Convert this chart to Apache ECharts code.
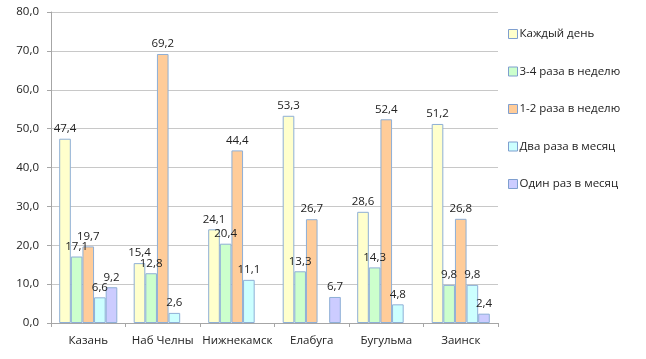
<!DOCTYPE html>
<html><head><meta charset="utf-8">
<script src="https://cdn.jsdelivr.net/npm/echarts@6/dist/echarts.min.js"></script>
<style>html,body{margin:0;padding:0;background:#fff}#c{width:646px;height:359px}</style>
</head><body><div id="c"></div>
<script>
const categories = ['Казань', 'Наб Челны', 'Нижнекамск', 'Елабуга', 'Бугульма', 'Заинск'];
const seriesNames = ['Каждый день', '3-4 раза в неделю', '1-2 раза в неделю', 'Два раза в месяц', 'Один раз в месяц'];
const everyDay = [47.4, 15.4, 24.1, 53.3, 28.6, 51.2];
const threeFour = [17.1, 12.8, 20.4, 13.3, 14.3, 9.8];
const oneTwo = [19.7, 69.2, 44.4, 26.7, 52.4, 26.8];
const twiceMonth = [6.6, 2.6, 11.1, null, 4.8, 9.8];
const onceMonth = [9.2, null, null, 6.7, null, 2.4];
const colors = ['#FFFFCC', '#CCFFCC', '#FFCC99', '#CCFFFF', '#CCCCFF'];
const allData = [everyDay, threeFour, oneTwo, twiceMonth, onceMonth];
const fmt = v => v.toFixed(1).replace('.', ',');
const FONT = 'Open Sans';
const chart = echarts.init(document.getElementById('c'));
chart.setOption({
  backgroundColor: '#fff',
  animation: false,
  grid: {left: 51, right: 148, top: 12, bottom: 36},
  legend: {
    orient: 'vertical', left: 503, top: 23, itemGap: 25.5,
    itemWidth: 9, itemHeight: 9, icon: 'rect',
    textStyle: {fontFamily: FONT, fontSize: 11.5, color: '#222', padding: [0,0,0,-3]},
    itemStyle: {borderColor: '#7F9FCF', borderWidth: 1},
    data: seriesNames
  },
  xAxis: {
    type: 'category', data: categories,
    axisLine: {lineStyle: {color: '#A6A6A6'}},
    axisTick: {show: true, length: 4, lineStyle: {color: '#A6A6A6'}},
    axisLabel: {interval: 0, fontFamily: FONT, fontSize: 11.5, color: '#222', margin: 12}
  },
  yAxis: {
    type: 'value', min: 0, max: 80, interval: 10,
    axisLine: {show: true, lineStyle: {color: '#A6A6A6'}},
    axisTick: {show: true, length: 4, lineStyle: {color: '#A6A6A6'}},
    splitLine: {lineStyle: {color: '#C8C8C8', width: 1}},
    axisLabel: {fontFamily: FONT, fontSize: 11.5, color: '#222', formatter: v => fmt(v), margin: 12}
  },
  series: seriesNames.map((n, i) => ({
    name: n, type: 'bar', data: allData[i],
    barGap: '0%', barCategoryGap: '22%',
    itemStyle: {color: colors[i], borderColor: '#8EAFD6', borderWidth: 1},
    label: {show: true, position: 'top', distance: 4, fontFamily: FONT, fontSize: 11.5, color: '#222',
      formatter: p => p.value == null ? '' : fmt(p.value)}
  }))
});
</script></body></html>
